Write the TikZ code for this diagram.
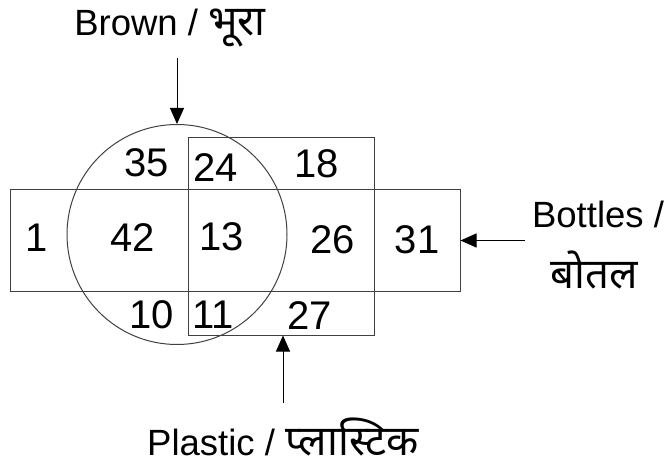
\documentclass[tikz,border=0pt]{standalone}
\usepackage{fontspec}
\setmainfont{Liberation Sans}
\newfontfamily\deva[Script=Devanagari,Scale=1.15]{Noto Sans}
\usetikzlibrary{arrows.meta}
\begin{document}
\begin{tikzpicture}[x=1pt,y=-1pt,
  shape line/.style={draw=black!75, line width=1pt},
  num/.style={inner sep=0pt, font=\fontsize{40}{44}\selectfont},
  lab/.style={inner sep=0pt, font=\fontsize{36.5}{42}\selectfont},
  arr/.style={draw=black, line width=1pt, -{Triangle[width=14pt,length=16pt]}}]
\useasboundingbox (0,0) rectangle (671,470);
% shapes
\node[shape line, circle, inner sep=0pt, minimum size=220pt] (circ) at (177,234.5) {};
\node[shape line, rectangle, inner sep=0pt, minimum width=450pt, minimum height=101pt] (hrect) at (235,240.5) {};
\node[shape line, rectangle, inner sep=0pt, minimum width=186pt, minimum height=197pt] (vrect) at (281,236.5) {};
% numbers
\node[num] (n35) at (147,163) {35};
\node[num] (n24) at (216,168) {24};
\node[num] (n18) at (317,164) {18};
\node[num] (n1)  at (37,238) {1};
\node[num] (n42) at (133,238) {42};
\node[num] (n13) at (222,237) {13};
\node[num] (n26) at (333,240) {26};
\node[num] (n31) at (417,240) {31};
\node[num] (n10) at (152,315) {10};
\node[num] (n11) at (213,315) {11};
\node[num] (n27) at (310,316) {27};
% labels
\node[lab, anchor=base] (brown) at (170,36) {Brown / {\deva भूरा}};
\node[lab, anchor=base] (bottles) at (598,227) {Bottles /};
\node[lab] (botal) at (594,270) {\deva बोतल};
\node[lab, anchor=base] (plastic) at (283,455) {Plastic / {\deva प्लास्टिक}};
% arrows
\coordinate (bstart) at (177,58);
\coordinate (tstart) at (525,240.5);
\coordinate (pstart) at (283,403);
\draw[arr] (bstart) -- (circ.north);
\draw[arr] (tstart) -- (hrect.east);
\draw[arr] (pstart) -- (pstart |- vrect.south);
\end{tikzpicture}
\end{document}
